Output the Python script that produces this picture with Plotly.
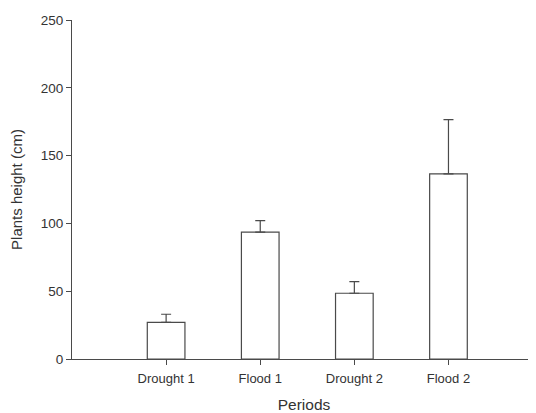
import plotly.graph_objects as go

categories = ["Drought 1", "Flood 1", "Drought 2", "Flood 2"]
heights = [27, 93.5, 48.5, 136.5]
errors = [6, 8.5, 8.5, 40]
y_ticks = [0, 50, 100, 150, 200, 250]

line_col = "#4a4a4a"
text_col = "#333333"
font_fam = "Liberation Sans, Arial, sans-serif"

fig = go.Figure()
fig.add_trace(go.Bar(
    x=categories, y=heights, width=0.4,
    marker=dict(color="white", line=dict(color=line_col, width=1.2)),
    error_y=dict(type="data", array=errors, symmetric=False, arrayminus=[0]*4,
                 color=line_col, thickness=1.2, width=5),
    showlegend=False,
))

# page body has an 8px default margin, so the figure is offset by (8, 8)
fig.update_layout(
    width=536, height=405,
    margin=dict(l=64, r=8, t=12, b=54),
    paper_bgcolor="white", plot_bgcolor="white",
    font=dict(family=font_fam, color=text_col, size=13),
    xaxis=dict(
        type="category", range=[-1, 3.93], automargin=False,
        showline=True, linecolor=line_col, linewidth=1.2,
        ticks="outside", ticklen=5, tickcolor=line_col, tickwidth=1.2,
        ticklabelstandoff=2,
        showgrid=False, zeroline=False,
        tickfont=dict(size=13, color=text_col),
        title=dict(text="Periods", font=dict(size=15.5, color=text_col), standoff=16),
    ),
    yaxis=dict(
        range=[0, 250], tickvals=y_ticks, automargin=False,
        showline=True, linecolor=line_col, linewidth=1.2,
        ticks="outside", ticklen=5, tickcolor=line_col, tickwidth=1.2,
        showgrid=False, zeroline=False,
        tickfont=dict(size=13.5, color=text_col),
        title=dict(text="Plants height (cm)", font=dict(size=15, color=text_col), standoff=16),
    ),
)

fig.write_html("out.html")
